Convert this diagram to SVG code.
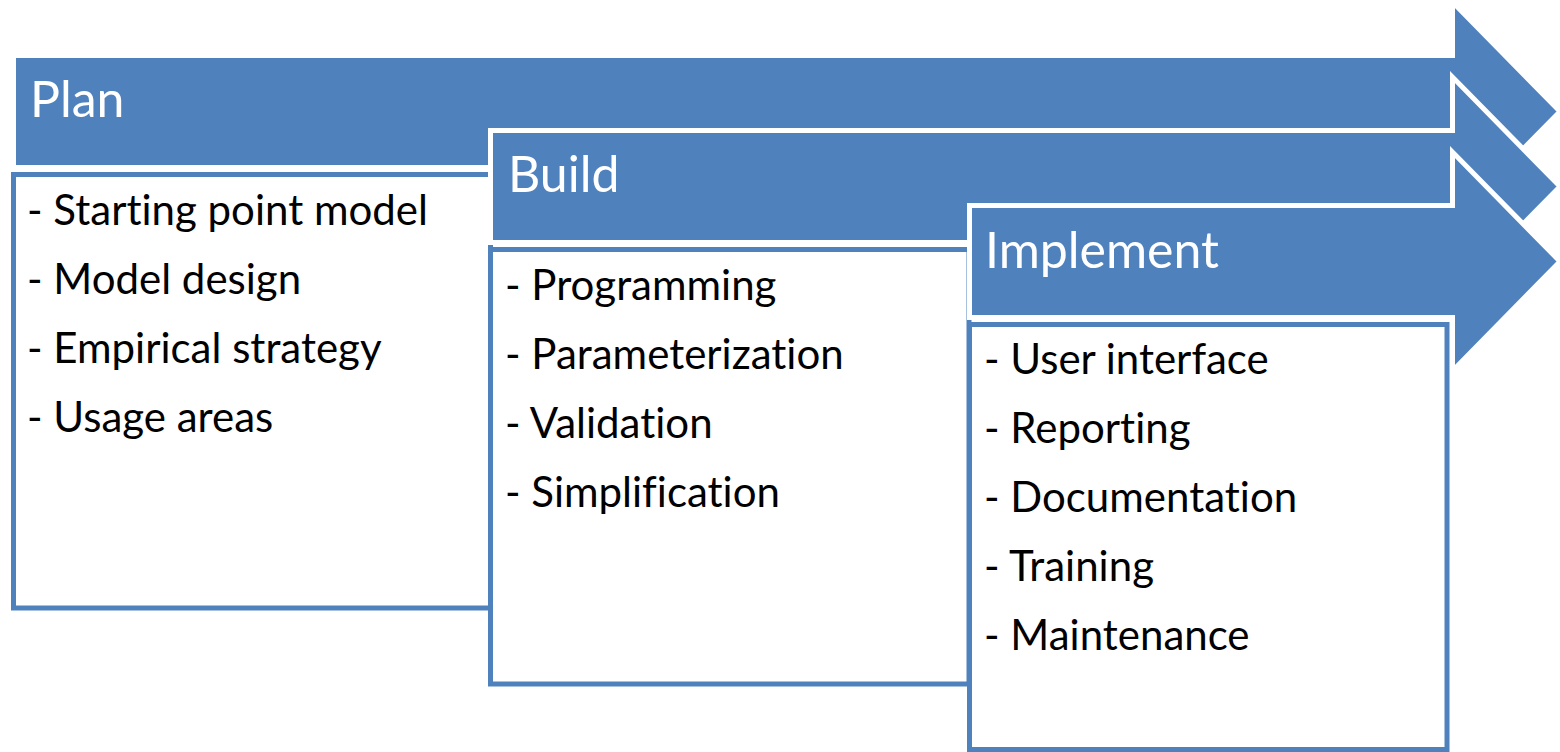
<svg xmlns="http://www.w3.org/2000/svg" width="1560" height="752" viewBox="0 0 1560 752">
<style>
.arrow{fill:#4F81BD;stroke:#FFFFFF;stroke-width:5;stroke-linejoin:miter}
.box{fill:#FFFFFF;stroke:#4F81BD;stroke-width:5}
.title{font-family:Lato,"Liberation Sans",sans-serif;font-size:50px;fill:#FFFFFF;font-variant-ligatures:none}
.item{font-family:Lato,"Liberation Sans",sans-serif;font-size:42px;fill:#000000;font-variant-ligatures:none}
</style>
<rect width="1560" height="752" fill="#FFFFFF"/>
<g id="plan">
<polygon class="arrow" points="13.5,55.5 1452.5,55.5 1452.5,2 1560,111.5 1452.5,221 1452.5,167.5 13.5,167.5"/>
<text class="title" x="30" y="117">Plan</text>
<rect class="box" x="13.5" y="174.5" width="477" height="433.5"/>
<text class="item" x="27" y="225">- Starting point model</text>
<text class="item" x="27" y="294">- Model design</text>
<text class="item" x="27" y="363">- Empirical strategy</text>
<text class="item" x="27" y="432">- Usage areas</text>
</g>
<g id="build">
<polygon class="arrow" points="490.5,130.5 1452.5,130.5 1452.5,77 1560,186.5 1452.5,296 1452.5,242.5 490.5,242.5"/>
<text class="title" x="508" y="192">Build</text>
<rect class="box" x="490.5" y="249.5" width="478.5" height="434.5"/>
<text class="item" x="505" y="300">- Programming</text>
<text class="item" x="505" y="369">- Parameterization</text>
<text class="item" x="505" y="438">- Validation</text>
<text class="item" x="505" y="507">- Simplification</text>
</g>
<g id="implement">
<polygon class="arrow" points="969.5,205.5 1452.5,205.5 1452.5,152 1560,261.5 1452.5,371 1452.5,317.5 969.5,317.5"/>
<text class="title" x="985" y="268">Implement</text>
<rect class="box" x="969.5" y="324.5" width="477.5" height="425"/>
<text class="item" x="984" y="374">- User interface</text>
<text class="item" x="984" y="443">- Reporting</text>
<text class="item" x="984" y="512">- Documentation</text>
<text class="item" x="984" y="581">- Training</text>
<text class="item" x="984" y="650">- Maintenance</text>
</g>
<g id="connectors"></g>
</svg>
